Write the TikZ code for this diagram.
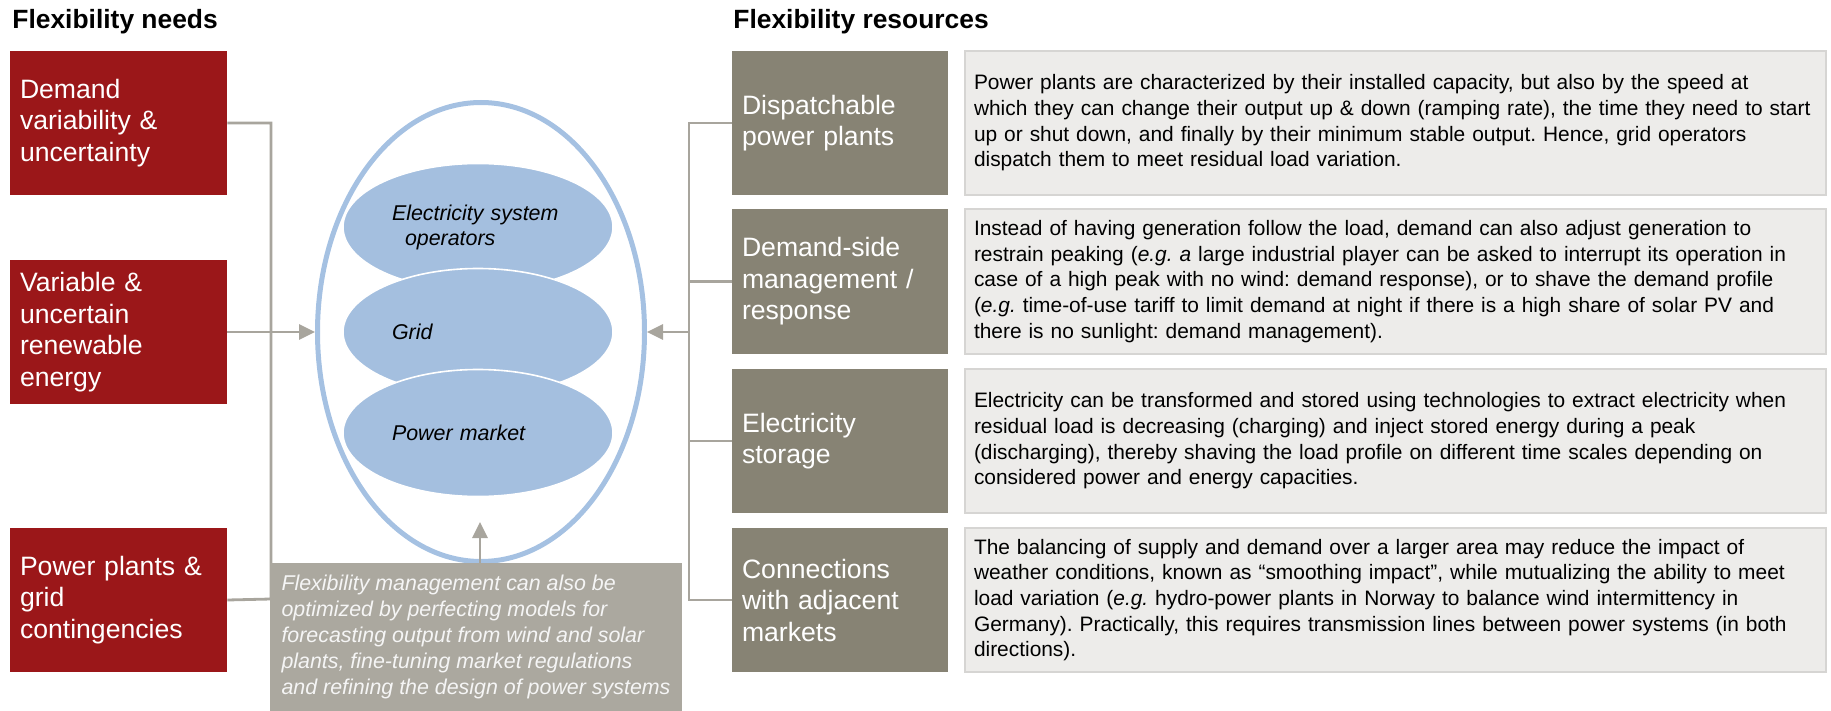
\documentclass[tikz,border=0pt]{standalone}
\usepackage{fontspec}
\setmainfont{Liberation Sans}
\frenchspacing
\usetikzlibrary{arrows.meta,shapes.geometric}
\definecolor{needred}{RGB}{155,23,25}
\definecolor{resgray}{RGB}{135,131,116}
\definecolor{descfill}{RGB}{237,236,234}
\definecolor{descdraw}{RGB}{214,213,211}
\definecolor{notefill}{RGB}{171,168,159}
\definecolor{conngray}{RGB}{168,165,157}
\definecolor{ellline}{RGB}{165,193,226}
\definecolor{ellfill}{RGB}{164,191,223}
\begin{document}
\begin{tikzpicture}[x=0.5pt,y=-0.5pt,
  title/.style={font=\fontsize{13.2}{15.8}\selectfont\bfseries, inner sep=0pt, anchor=base west},
  needbox/.style={fill=needred, text=white, minimum width=108.5pt, minimum height=72pt,
     inner sep=0pt, inner xsep=5pt, text width=98.5pt, align=left,
     font=\fontsize{13.3}{15.75}\selectfont},
  resbox/.style={fill=resgray, text=white, minimum width=108pt, minimum height=72pt,
     inner sep=0pt, inner xsep=5pt, text width=98pt, align=left,
     font=\fontsize{13.3}{15.75}\selectfont},
  descbox/.style={fill=descfill, draw=descdraw, line width=1pt, minimum width=430.5pt,
     minimum height=72pt, inner sep=0pt, inner xsep=4.5pt, text width=421.5pt, align=left,
     font=\fontsize{10.45}{12.85}\selectfont},
  notebox/.style={fill=notefill, text=white!96!black, minimum width=206pt, minimum height=74pt,
     inner sep=0pt, align=left, font=\fontsize{10.7}{12.9}\selectfont\itshape},
  innerell/.style={ellipse, fill=ellfill, draw=white, line width=0.8pt, minimum width=135pt,
     minimum height=63.5pt, inner sep=0pt, text width=86pt, align=left,
     font=\fontsize{10.7}{12.5}\selectfont\itshape},
  conn/.style={draw=conngray, line width=1.4pt},
  arr/.style={-{Triangle[length=8pt,width=7.5pt]}}
]
\useasboundingbox (0,0) rectangle (1831,711);

% titles
\node[title] (t1) at (12,29) {Flexibility needs};
\node[title] (t2) at (733,29) {Flexibility resources};

% flexibility needs
\node[needbox] (r1) at (118.5,123) {Demand\\variability \&\\uncertainty};
\node[needbox] (r2) at (118.5,332) {Variable \&\\uncertain\\renewable\\energy};
\node[needbox] (r3) at (118.5,600) {Power plants \&\\grid\\contingencies};

% flexibility resources
\node[resbox] (g1) at (840,123) {Dispatchable\\power plants};
\node[resbox] (g2) at (840,281.5) {Demand-side\\management /\\response};
\node[resbox] (g3) at (840,441) {Electricity\\storage};
\node[resbox] (g4) at (840,600) {Connections\\with adjacent\\markets};

% descriptions
\node[descbox] (d1) at (1395.5,123) {Power plants are characterized by their installed capacity, but also by the speed at\\
which they can change their output up \& down (ramping rate), the time they need to start\\
up or shut down, and finally by their minimum stable output. Hence, grid operators\\
dispatch them to meet residual load variation.};
\node[descbox] (d2) at (1395.5,281.5) {Instead of having generation follow the load, demand can also adjust generation to\\
restrain peaking (\textit{e.g. a} large industrial player can be asked to interrupt its operation in\\
case of a high peak with no wind: demand response), or to shave the demand profile\\
(\textit{e.g.} time-of-use tariff to limit demand at night if there is a high share of solar PV and\\
there is no sunlight: demand management).};
\node[descbox] (d3) at (1395.5,441) {Electricity can be transformed and stored using technologies to extract electricity when\\
residual load is decreasing (charging) and inject stored energy during a peak\\
(discharging), thereby shaving the load profile on different time scales depending on\\
considered power and energy capacities.};
\node[descbox] (d4) at (1395.5,600) {The balancing of supply and demand over a larger area may reduce the impact of\\
weather conditions, known as “smoothing impact”, while mutualizing the ability to meet\\
load variation (\textit{e.g.} hydro-power plants in Norway to balance wind intermittency in\\
Germany). Practically, this requires transmission lines between power systems (in both\\
directions).};

% central ellipse
\node[ellipse, draw=ellline, line width=2.5pt, minimum width=163.5pt, minimum height=229.5pt,
  inner sep=0pt] (ell) at (481,332) {};
\node[innerell] (e1) at (478,227) {Electricity system\\\hspace*{6.5pt}operators};
\node[innerell] (e2) at (478,332) {Grid};
\node[innerell] (e3) at (478,433) {Power market};

% connectors left
\coordinate (vl1) at (271,123);
\coordinate (vl3) at (271,599);
\draw[conn] (r1.east) -- (vl1) -- (vl3) -- (r3.east);
\draw[conn,arr] (r2.east) -- (ell.west |- r2.east);

% connectors right
\coordinate (vr1) at (689,123);
\coordinate (vr4) at (689,600);
\draw[conn] (g1.west) -- (vr1) -- (vr4) -- (g4.west);
\draw[conn] (g2.west) -- (g2.west -| vr1);
\draw[conn] (g3.west) -- (g3.west -| vr1);
\draw[conn,arr] (vr1 |- ell.east) -- (ell.east);

% note box
\node[notebox] (note) at (476,637) {Flexibility management can also be\\
optimized by perfecting models for\\
forecasting output from wind and solar\\
plants, fine-tuning market regulations\\
and refining the design of power systems};
\coordinate (uptip) at (480,522);
\draw[conn,arr] (note.north -| uptip) -- (uptip);
\end{tikzpicture}
\end{document}
